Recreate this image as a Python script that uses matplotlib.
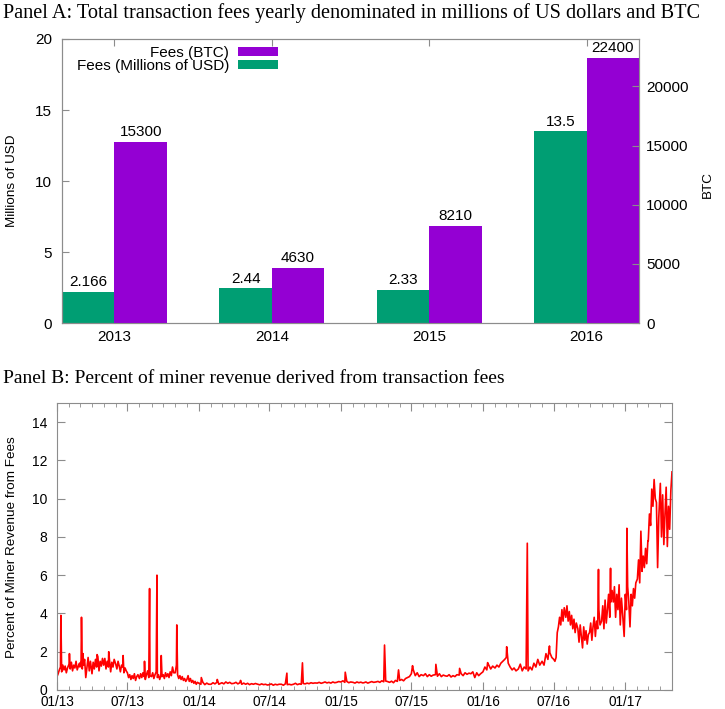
import matplotlib

matplotlib.use("Agg")

import matplotlib.dates as mdates
import matplotlib.pyplot as plt
import numpy as np
import pandas as pd

plt.rcParams["font.family"] = ["Liberation Sans", "DejaVu Sans"]

GREEN = "#009e73"
PURPLE = "#9400d3"
BORDER = "#8c8c8c"

# Panel A: yearly totals
years = ["2013", "2014", "2015", "2016"]
fees_usd_millions = [2.166, 2.44, 2.33, 13.5]
fees_btc = [15300, 4630, 8210, 22400]
usd_labels = ["2.166", "2.44", "2.33", "13.5"]
btc_labels = ["15300", "4630", "8210", "22400"]

# Panel B: percent of miner revenue from fees.
# Noisy stretches: 10 readings a month (days 1, 4, ... 28),
# calm stretches: 6 readings a month (days 1, 6, ... 26)
pct_2013 = [
    0.7, 0.85, 1.05, 1.2, 0.95, 1.3, 1.05, 1.25, 0.9, 1.15,
    1.35, 1.1, 1.45, 1.0, 1.3, 1.15, 1.5, 1.05, 1.25, 1.4,
    1.2, 1.55, 1.1, 1.3, 1.6, 0.65, 1.2, 1.7, 1.0, 1.5,
    0.85, 1.45, 1.1, 1.6, 1.2, 1.75, 1.0, 1.5, 1.25, 1.65,
    1.3, 1.65, 1.1, 1.5, 1.2, 1.55, 0.95, 1.45, 1.2, 1.6,
    1.35, 1.1, 1.5, 1.25, 0.95, 1.3, 1.2, 0.9, 1.15, 1.0,
    0.9, 0.65, 0.8, 0.55, 0.75, 0.6, 0.85, 0.5, 0.7, 0.8,
    0.6, 0.85, 0.65, 0.9, 0.7, 0.55, 0.8, 1.0, 0.65, 0.75,
    0.7, 0.9, 0.6, 0.8, 0.95, 0.65, 0.8, 0.55, 0.75, 0.7,
    0.8, 0.6, 0.9, 0.7, 0.85, 0.65, 0.95, 0.75, 1.2, 0.9,
    0.9, 1.3, 0.8, 0.6, 0.75, 0.55, 0.7, 0.5, 0.6, 0.45,
    0.55, 0.75, 0.45, 0.6, 0.4, 0.5, 0.35, 0.45, 0.3, 0.4,
]
pct_2014 = [
    0.35, 0.3, 0.4, 0.28, 0.36, 0.3,
    0.3, 0.38, 0.32, 0.4, 0.3, 0.35,
    0.38, 0.32, 0.42, 0.35, 0.4, 0.33,
    0.35, 0.4, 0.32, 0.38, 0.3, 0.36,
    0.3, 0.35, 0.28, 0.33, 0.3, 0.34,
    0.3, 0.27, 0.32, 0.28, 0.3, 0.26,
    0.28, 0.32, 0.25, 0.3, 0.27, 0.3,
    0.3, 0.25, 0.32, 0.28, 0.3, 0.27,
    0.3, 0.35, 0.28, 0.32, 0.3, 0.34,
    0.32, 0.36, 0.33, 0.38, 0.35, 0.37,
    0.36, 0.4, 0.35, 0.38, 0.42, 0.37,
    0.4, 0.36, 0.42, 0.38, 0.4, 0.44,
]
pct_2015 = [
    0.42, 0.48, 0.4, 0.45, 0.38, 0.42,
    0.4, 0.36, 0.42, 0.38, 0.41, 0.37,
    0.38, 0.42, 0.36, 0.4, 0.44, 0.4,
    0.42, 0.45, 0.4, 0.48, 0.43, 0.47,
    0.44, 0.4, 0.46, 0.38, 0.5, 0.45,
    0.5, 0.55, 0.48, 0.6, 0.65, 0.7,
    0.85, 1.05, 0.75, 0.9, 0.7, 0.8,
    0.75, 0.85, 0.7, 0.8, 0.72, 0.78,
    0.8, 0.72, 0.85, 0.7, 0.78, 0.74,
    0.72, 0.8, 0.68, 0.75, 0.7, 0.8,
    0.78, 0.85, 0.75, 0.9, 0.82, 0.88,
    0.85, 0.95, 0.65, 0.9, 0.75, 0.85,
]
pct_2016_h1 = [
    0.95, 1.2, 1.05, 1.3, 1.1, 1.25,
    1.15, 1.3, 1.2, 1.4, 1.5, 1.6,
    1.7, 1.4, 1.2, 1.05, 1.15, 1.0,
    1.1, 1.35, 1.0, 1.2, 1.1, 1.0,
    1.2, 1.05, 1.4, 1.2, 1.6, 1.3,
    1.5, 1.3, 1.9, 1.6, 1.95, 1.7,
]
pct_2016_h2 = [
    1.6, 1.5, 1.7, 3.0, 3.3, 3.8, 3.4, 4.2, 3.6, 4.3,
    3.8, 4.4, 3.6, 4.1, 3.4, 3.9, 3.2, 3.7, 3.0, 3.5,
    3.2, 2.5, 3.4, 2.8, 2.2, 3.3, 2.6, 3.1, 2.4, 2.9,
    3.0, 3.5, 2.6, 3.3, 3.8, 2.8, 3.6, 3.2, 4.2, 3.4,
    3.6, 4.4, 3.2, 4.7, 3.5, 4.2, 5.0, 3.8, 4.6, 5.2,
    4.6, 5.4, 3.8, 5.0, 4.2, 5.5, 3.4, 4.8, 4.0, 3.1,
]
pct_2017 = [
    5.0, 4.2, 5.4, 4.6, 3.3, 5.0, 4.4, 5.3, 4.8, 5.6,
    5.8, 6.8, 5.6, 8.3, 6.2, 7.0, 6.4, 7.4, 6.6, 7.8,
    7.8, 9.2, 8.6, 10.5, 9.6, 11.0, 10.0, 9.8, 6.4, 9.0,
    10.8, 8.0, 10.2, 7.6, 9.2, 10.6, 7.5, 9.6, 8.4, 10.4,
]

# single-day spikes between the regular readings
spike_dates = [
    "2013-01-11", "2013-02-02", "2013-03-05", "2013-03-09", "2013-04-14",
    "2013-05-14", "2013-06-20", "2013-08-14", "2013-08-27", "2013-09-15",
    "2013-09-26", "2013-11-05",
    "2014-01-07", "2014-02-17", "2014-04-18", "2014-08-15", "2014-09-24",
    "2015-01-12", "2015-04-23", "2015-05-29", "2015-07-04", "2015-09-02",
    "2015-11-02",
    "2016-01-13", "2016-03-02", "2016-04-24", "2016-04-25", "2016-06-20",
    "2016-10-24", "2016-11-24", "2016-12-29",
    "2017-01-05", "2017-05-01",
]
spike_values = [
    3.9, 1.9, 3.8, 1.9, 1.85,
    2.0, 1.8, 1.5, 5.3, 6.0,
    1.8, 3.4,
    0.65, 0.55, 0.5, 0.88, 1.42,
    0.93, 2.35, 1.05, 1.27, 1.34,
    1.13,
    1.43, 2.26, 7.67, 4.5, 2.3,
    6.3, 6.36, 2.8,
    8.45, 11.4,
]


def reading_dates(year, first_month, values, per_month):
    step = 30 // per_month
    return [pd.Timestamp(year, first_month + i // per_month, 1 + step * (i % per_month))
            for i in range(len(values))]


blocks = [
    (2013, 1, pct_2013, 10),
    (2014, 1, pct_2014, 6),
    (2015, 1, pct_2015, 6),
    (2016, 1, pct_2016_h1, 6),
    (2016, 7, pct_2016_h2, 10),
    (2017, 1, pct_2017, 10),
]
frames = [pd.DataFrame({"date": reading_dates(y, m, v, n), "pct": v}) for y, m, v, n in blocks]
frames.append(pd.DataFrame({"date": pd.to_datetime(spike_dates), "pct": spike_values}))
series = pd.concat(frames).sort_values("date")

fig = plt.figure(figsize=(7.25, 7.09), dpi=100)

# ---- Panel A ----
ax_a = fig.add_axes([0.0855, 0.5444, 0.7959, 0.4006])
ax_btc = ax_a.twinx()
x = np.arange(len(years))
w = 1 / 3
usd_bars = ax_a.bar(x - w / 2, fees_usd_millions, w, color=GREEN, linewidth=0)
btc_bars = ax_btc.bar(x + w / 2, fees_btc, w, color=PURPLE, linewidth=0)
ax_a.bar_label(usd_bars, labels=usd_labels, padding=2, fontsize=11)
ax_btc.bar_label(btc_bars, labels=btc_labels, padding=2, fontsize=11)

ax_a.set_xlim(-w, len(years) - 1 + w)
ax_a.set_ylim(0, 20)
ax_btc.set_ylim(0, 24000)
ax_a.set_xticks(x, years)
ax_a.set_yticks([0, 5, 10, 15, 20])
ax_btc.set_yticks([0, 5000, 10000, 15000, 20000])
ax_a.tick_params(axis="x", top=True, bottom=False, direction="in", length=5,
                 color=BORDER, labelsize=11, pad=5)
ax_a.tick_params(axis="y", direction="in", length=5, color=BORDER, labelsize=11, pad=7)
ax_btc.tick_params(axis="y", direction="in", length=5, color=BORDER, labelsize=11, pad=5)
for ax in (ax_a, ax_btc):
    for sp in ax.spines.values():
        sp.set_color(BORDER)

ax_btc.legend([btc_bars, usd_bars], ["Fees (BTC)", "Fees (Millions of USD)"],
              loc="upper right", bbox_to_anchor=((278 - 62) / 577, 0.976),
              frameon=False, markerfirst=False, fontsize=11, handlelength=2.6,
              handleheight=0.5, handletextpad=0.6, labelspacing=-0.05,
              borderpad=0, borderaxespad=0)

fig.text(12 / 725, 1 - 181 / 709, "Millions of USD", rotation=90,
         ha="center", va="center", fontsize=9.7)
fig.text(708 / 725, 1 - 185 / 709, "BTC", rotation=90,
         ha="center", va="center", fontsize=9.7)
fig.text(0.004, 1 - 13 / 709,
         "Panel A: Total transaction fees yearly denominated in millions of US dollars and BTC",
         family="Liberation Serif", fontsize=14.6, ha="left", va="center")

# ---- Panel B ----
ax_b = fig.add_axes([0.0786, 0.0268, 0.8483, 0.4048])
ax_b.plot(series["date"], series["pct"], color="#ff0000", linewidth=1.2)
ax_b.set_xlim(pd.Timestamp("2013-01-01"), pd.Timestamp("2017-05-01"))
ax_b.set_ylim(0, 15)
ax_b.set_yticks(np.arange(0, 15, 2))
ax_b.xaxis.set_major_locator(mdates.MonthLocator(bymonth=[1, 7]))
ax_b.xaxis.set_major_formatter(mdates.DateFormatter("%m/%y"))
ax_b.xaxis.set_minor_locator(mdates.MonthLocator())
ax_b.tick_params(which="both", direction="in", top=True, right=True, color=BORDER)
ax_b.tick_params(which="major", length=6, labelsize=10)
ax_b.tick_params(axis="y", which="major", pad=7)
ax_b.tick_params(axis="x", which="major", pad=3.5, labelsize=9.8)
ax_b.tick_params(which="minor", length=3)
for sp in ax_b.spines.values():
    sp.set_color(BORDER)

fig.text(12 / 725, 1 - 547 / 709, "Percent of Miner Revenue from Fees", rotation=90,
         ha="center", va="center", fontsize=9.7)
fig.text(0.004, 1 - 379 / 709,
         "Panel B: Percent of miner revenue derived from transaction fees",
         family="Liberation Serif", fontsize=14.0, ha="left", va="center")

fig.savefig("out.png", dpi=100)
